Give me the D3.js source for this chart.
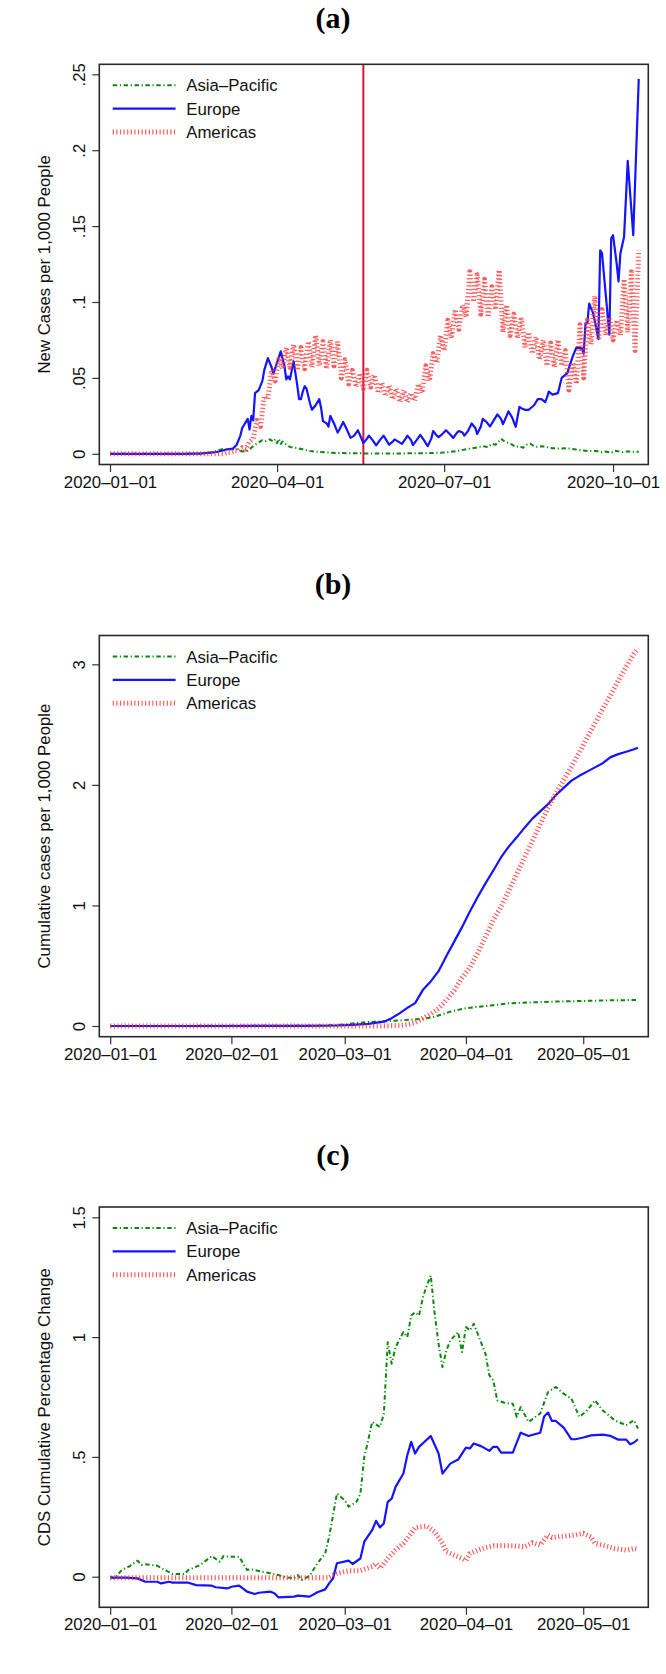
<!DOCTYPE html>
<html><head><meta charset="utf-8">
<script src="https://cdn.jsdelivr.net/npm/d3@7"></script>
<style>body{margin:0;background:#fff} svg{display:block}</style>
</head><body>
<svg id="c" width="666" height="1674"></svg>
<script>
// ---------------- DATA ----------------
// day offsets are counted from 2020-01-01
const seriesNames = ["Asia\u2013Pacific", "Europe", "Americas"];
const panelTitles = ["(a)", "(b)", "(c)"];
const yLabels = ["New Cases per 1,000 People", "Cumulative cases per 1,000 People", "CDS Cumulative Percentage Change"];
const xTicksA = ["2020-01-01", "2020-04-01", "2020-07-01", "2020-10-01"];
const xTicksBC = ["2020-01-01", "2020-02-01", "2020-03-01", "2020-04-01", "2020-05-01"];
const yTicksA = [0, 0.05, 0.1, 0.15, 0.2, 0.25];
const yTicksB = [0, 1, 2, 3];
const yTicksC = [0, 0.5, 1, 1.5];
const markerDateA = "2020-05-18";

// Panel (a): new cases per 1,000
const asiaDaysA = [0,50,55,58,61,65,69,72,75,77,79,81,83,85,87,89,90,91,92,93,94,96,98,101,105,109,114,119,125,135,150,165,175,181,185,189,194,199,203,206,208,210,212,213,215,217,219,221,223,225,227,229,231,233,235,237,239,241,245,249,253,257,261,265,268,270,273,275,277,279,282,285,288];
const asiaValsA = [0,0,0.001,0.002,0.003,0.003,0.003,0.0015,0.002,0.004,0.006,0.0075,0.009,0.0085,0.0095,0.008,0.0095,0.007,0.0098,0.0065,0.008,0.006,0.0045,0.004,0.003,0.0018,0.0012,0.0008,0.0005,0.0003,0.0002,0.0003,0.0005,0.0008,0.0012,0.0018,0.003,0.004,0.005,0.0045,0.0066,0.006,0.0085,0.0099,0.008,0.0072,0.006,0.0045,0.005,0.004,0.006,0.0066,0.005,0.0045,0.005,0.0048,0.004,0.0037,0.0035,0.0037,0.003,0.0022,0.0018,0.0018,0.001,0.0015,0.0007,0.002,0.0016,0.0012,0.0015,0.0014,0.0013];

const europeDaysA = [0,20,40,50,55,58,61,64,67,69,71,72,73,74,75,76,77,78,79,81,83,84,86,88,89,91,93,95,96,97,98,99,100,102,103,104,105,106,107,109,110,112,114,115,116,118,119,120,122,124,125,127,129,131,133,135,137,138,140,141,143,145,147,149,151,152,154,155,157,159,161,162,164,165,167,169,171,173,175,176,178,179,181,183,185,187,189,190,192,193,195,197,199,200,202,203,205,207,209,211,213,214,216,217,219,221,223,224,226,228,229,231,233,235,237,238,239,241,244,246,249,252,254,257,258,259,260,261,263,264,266,267,268,270,272,273,274,276,277,278,280,282,285,288];
const europeValsA = [0,0,0,0.0003,0.0008,0.0012,0.002,0.003,0.0035,0.006,0.012,0.017,0.019,0.021,0.023,0.016,0.025,0.022,0.040,0.042,0.048,0.055,0.063,0.057,0.053,0.060,0.0675,0.058,0.049,0.051,0.049,0.055,0.061,0.045,0.036,0.036,0.041,0.0445,0.043,0.033,0.029,0.032,0.036,0.030,0.0215,0.020,0.018,0.025,0.020,0.014,0.016,0.021,0.016,0.0105,0.012,0.0155,0.010,0.007,0.010,0.012,0.009,0.0055,0.009,0.012,0.008,0.006,0.008,0.0095,0.008,0.0065,0.010,0.012,0.009,0.0057,0.009,0.0125,0.009,0.005,0.010,0.015,0.012,0.011,0.013,0.0155,0.013,0.0105,0.014,0.015,0.014,0.012,0.015,0.020,0.017,0.013,0.018,0.023,0.021,0.018,0.022,0.026,0.023,0.0195,0.025,0.028,0.024,0.0178,0.031,0.030,0.029,0.029,0.030,0.032,0.036,0.036,0.034,0.037,0.041,0.039,0.040,0.050,0.053,0.064,0.070,0.0695,0.066,0.086,0.086,0.099,0.093,0.088,0.0757,0.134,0.132,0.105,0.0785,0.142,0.144,0.125,0.1135,0.132,0.143,0.193,0.144,0.247];

const americasDaysA = [0,10,20,30,40,50,60,
  62,64,66,68,70,72,74,76,78,80,82,84,86,88,90,92,94,96,98,100,102,104,106,108,110,112,114,116,118,120,122,124,126,128,130,132,134,136,138,140,142,144,146,148,150,152,154,156,158,160,162,164,166,168,170,172,174,176,178,180,182,184,186,188,190,192,194,196,198,200,202,204,206,208,210,212,214,216,218,220,222,224,226,228,230,232,234,236,238,240,242,244,246,248,250,252,254,256,258,260,262,264,266,268,270,272,274,276,278,280,282,284,286,288];
const americasValsA = [0,0,0,0,0,0,0,
  0.000,0.001,0.001,0.002,0.002,0.004,0.003,0.008,0.010,0.022,0.018,0.038,0.036,0.055,0.048,0.064,0.056,0.070,0.057,0.072,0.055,0.070,0.056,0.074,0.057,0.078,0.058,0.074,0.056,0.075,0.058,0.074,0.050,0.062,0.046,0.055,0.044,0.053,0.043,0.055,0.044,0.052,0.040,0.047,0.038,0.045,0.036,0.043,0.034,0.042,0.034,0.040,0.035,0.046,0.040,0.058,0.048,0.066,0.060,0.078,0.068,0.088,0.076,0.095,0.082,0.098,0.090,0.120,0.100,0.118,0.092,0.115,0.090,0.110,0.095,0.121,0.080,0.098,0.078,0.092,0.076,0.090,0.070,0.080,0.066,0.077,0.062,0.075,0.058,0.073,0.057,0.075,0.058,0.068,0.042,0.060,0.046,0.085,0.050,0.088,0.072,0.104,0.075,0.095,0.078,0.090,0.075,0.088,0.078,0.115,0.080,0.120,0.068,0.134];

// Panel (b): cumulative cases per 1,000
const asiaDaysB = [0,20,40,50,55,58,60,63,66,70,74,78,81,83,85,87,89,91,94,98,102,107,113,120,128,135];
const asiaValsB = [0,0.001,0.002,0.003,0.005,0.009,0.013,0.024,0.033,0.039,0.046,0.055,0.064,0.077,0.098,0.119,0.134,0.148,0.159,0.173,0.188,0.195,0.202,0.207,0.213,0.216];
const europeDaysB = [0,30,50,58,62,66,70,72,74,76,78,80,82,84,86,88,90,92,94,96,98,100,102,104,106,108,110,112,114,116,118,120,122,124,126,128,130,132,134,135];
const europeValsB = [0,0,0.001,0.004,0.010,0.017,0.036,0.065,0.105,0.15,0.19,0.30,0.37,0.455,0.58,0.70,0.82,0.95,1.07,1.183,1.29,1.40,1.49,1.565,1.645,1.72,1.78,1.84,1.915,1.975,2.035,2.075,2.11,2.145,2.18,2.23,2.255,2.275,2.295,2.308];
const americasDaysB = [0,60,70,74,76,78,80,82,84,86,88,90,92,94,96,98,100,102,104,106,108,110,112,114,116,118,120,122,124,126,128,130,132,134,135];
const americasValsB = [0,0,0.001,0.005,0.012,0.027,0.064,0.10,0.145,0.216,0.295,0.40,0.485,0.605,0.74,0.88,0.99,1.125,1.26,1.40,1.535,1.675,1.81,1.93,2.04,2.15,2.27,2.39,2.51,2.63,2.745,2.865,2.98,3.09,3.132];

// Panel (c): CDS cumulative percentage change
const asiaDaysC = [0,1,3,5,7,8,9,12,14,16,19,20,23,26,28,29,31,33,35,36,41,43,45,47,48,49,51,53,55,56,58,60,61,63,64,65,66,67,69,70,71,72,73,75,76,77,78,79,80,81,82,83,84,85,86,87,89,90,91,92,93,94,96,97,98,99,101,103,104,105,107,110,112,114,116,118,120,122,124,126,127,129,132,134,135];
const asiaValsC = [0,-0.007,0.028,0.044,0.067,0.049,0.052,0.046,0.028,0.011,0.011,0.028,0.049,0.086,0.0625,0.086,0.083,0.083,0.028,0.031,0.014,0.007,-0.003,-0.007,0.007,-0.014,0.003,0.056,0.097,0.167,0.347,0.319,0.292,0.3125,0.347,0.5,0.569,0.646,0.625,0.68,0.979,0.889,0.958,1.021,1.0,1.09,1.104,1.09,1.167,1.215,1.257,1.097,0.972,0.875,0.944,0.986,1.021,0.9375,1.042,1.028,1.056,1.014,0.931,0.840,0.819,0.736,0.725,0.722,0.667,0.708,0.646,0.681,0.771,0.792,0.764,0.743,0.667,0.694,0.736,0.694,0.681,0.653,0.632,0.653,0.618];
const europeDaysC = [0,4,7,9,12,13,15,16,20,22,26,27,30,31,33,35,37,38,41,42,43,47,48,51,53,55,56,57,58,61,62,64,65,67,68,69,70,71,72,73,75,76,77,78,79,82,84,85,86,87,89,91,92,93,95,97,98,99,100,103,105,107,110,111,112,113,114,116,118,119,121,123,126,128,130,132,133,134,135];
const europeValsC = [-0.004,-0.004,-0.007,-0.021,-0.021,-0.028,-0.021,-0.025,-0.025,-0.035,-0.0375,-0.044,-0.049,-0.042,-0.0375,-0.0625,-0.072,-0.067,-0.0625,-0.069,-0.086,-0.083,-0.079,-0.083,-0.065,-0.053,-0.028,-0.007,0.056,0.067,0.053,0.076,0.146,0.194,0.233,0.206,0.222,0.3125,0.326,0.375,0.431,0.507,0.5625,0.514,0.542,0.5875,0.514,0.431,0.451,0.472,0.489,0.539,0.535,0.556,0.544,0.525,0.542,0.542,0.518,0.518,0.601,0.5875,0.601,0.669,0.685,0.65,0.65,0.622,0.5736,0.5736,0.581,0.590,0.593,0.5875,0.572,0.572,0.553,0.56,0.5736];
const americasDaysC = [0,20,40,56,58,61,64,67,68,69,71,73,75,77,78,79,81,83,85,86,88,90,91,92,94,96,98,103,106,108,110,112,113,116,119,121,123,124,126,129,132,134,135];
const americasValsC = [-0.004,-0.004,-0.004,-0.004,0.014,0.025,0.025,0.042,0.056,0.035,0.076,0.111,0.139,0.181,0.204,0.208,0.211,0.1875,0.139,0.104,0.090,0.076,0.067,0.097,0.111,0.122,0.129,0.129,0.125,0.142,0.132,0.174,0.164,0.169,0.174,0.181,0.167,0.139,0.132,0.118,0.111,0.118,0.115];

// ---------------- DRAWING ----------------
const base = Date.UTC(2020, 0, 1);
const toDate = d => new Date(base + d * 864e5);
const parse = d3.utcParse("%Y-%m-%d");
const fmtDate = d3.utcFormat("%Y\u2013%m\u2013%d");
const fmtY = v => { let s = String(v); if (s.startsWith("0.")) s = s.slice(1); return s; };
const zip = (a, b) => a.slice(0, Math.min(a.length, b.length)).map((d, i) => [d, b[i]]);

const FONT = "'Liberation Sans', Arial, Helvetica, sans-serif";
const FS = "16.8px";
const styles = [
  { color: "#0a8a0a", width: 2, dash: "4.5,2.6,1.2,2.6", opacity: 1 },
  { color: "#1414ff", width: 2.2, dash: null, opacity: 1 },
  { color: "#ff3535", width: 5, dash: "1.2,2.4", opacity: 0.8 }
];

const svg = d3.select("#c");
const L = 99.3, R = 648.3;

function panel(p) {
  const g = svg.append("g");
  const x = d3.scaleUtc().domain([toDate(p.xd[0]), toDate(p.xd[1])]).range([L, R]);
  const y = d3.scaleLinear().domain(p.yd).range([p.bottom, p.top]);

  // title
  g.append("text").attr("x", 333).attr("y", p.titleY)
    .attr("text-anchor", "middle")
    .style("font-family", "'Liberation Serif', 'Times New Roman', serif").style("font-weight", "bold").style("font-size", "30px")
    .text(p.title);

  // x axis
  const gx = g.append("g").attr("transform", `translate(0,${p.bottom})`)
    .call(d3.axisBottom(x).tickValues(p.xTicks.map(parse)).tickFormat(fmtDate).tickSize(7.5).tickPadding(7.5));
  gx.select(".domain").remove();
  gx.selectAll(".tick line").attr("stroke", "#333").attr("stroke-width", 1.2);
  gx.selectAll(".tick text").attr("y", 23).attr("dy", null)
    .style("font-family", FONT).style("font-size", FS).attr("fill", "#111");

  // y axis
  const gy = g.append("g").attr("transform", `translate(${L},0)`)
    .call(d3.axisLeft(y).tickValues(p.yTicks).tickFormat(fmtY).tickSize(7));
  gy.select(".domain").remove();
  gy.selectAll(".tick line").attr("stroke", "#333").attr("stroke-width", 1.2);
  gy.selectAll(".tick text").attr("x", null).attr("dy", null)
    .attr("transform", "translate(-14,0) rotate(-90)")
    .attr("text-anchor", "middle")
    .style("font-family", FONT).style("font-size", FS).attr("fill", "#111");

  // y label
  const cy = (p.top + p.bottom) / 2;
  g.append("text").attr("transform", `translate(49.5,${cy}) rotate(-90)`)
    .attr("text-anchor", "middle")
    .style("font-family", FONT).style("font-size", FS).attr("fill", "#111")
    .text(p.ylabel);

  // vertical marker
  if (p.marker) {
    g.append("line").attr("x1", x(parse(p.marker))).attr("x2", x(parse(p.marker)))
      .attr("y1", p.top).attr("y2", p.bottom)
      .attr("stroke", "#d8123c").attr("stroke-width", 2);
  }

  // series
  const line = d3.line().x(d => x(toDate(d[0]))).y(d => y(d[1]));
  p.series.forEach((s, i) => {
    const st = styles[i];
    g.append("path").datum(zip(s[0], s[1])).attr("d", line)
      .attr("fill", "none").attr("stroke", st.color).attr("stroke-width", st.width)
      .attr("stroke-dasharray", st.dash).attr("stroke-opacity", st.opacity)
      .attr("stroke-linejoin", "round");
  });

  // legend
  const ly = [21, 44.3, 67.7];
  seriesNames.forEach((n, i) => {
    const st = styles[i];
    const yy = p.top + ly[i];
    g.append("line").attr("x1", 112.7).attr("x2", 175.6).attr("y1", yy).attr("y2", yy)
      .attr("stroke", st.color).attr("stroke-width", st.width)
      .attr("stroke-dasharray", st.dash).attr("stroke-opacity", st.opacity);
    g.append("text").attr("x", 186.2).attr("y", yy).attr("dy", "0.36em")
      .style("font-family", FONT).style("font-size", FS).attr("fill", "#111")
      .text(n);
  });

  // frame
  g.append("rect").attr("x", L).attr("y", p.top).attr("width", R - L).attr("height", p.bottom - p.top)
    .attr("fill", "none").attr("stroke", "#2a2a2a").attr("stroke-width", 1.6);
}

panel({
  title: panelTitles[0], titleY: 27.5, top: 64.3, bottom: 464.5,
  xd: [-5.83, 293.2], yd: [-0.00705, 0.2566],
  xTicks: xTicksA, yTicks: yTicksA, ylabel: yLabels[0], marker: markerDateA,
  series: [[asiaDaysA, asiaValsA], [europeDaysA, europeValsA], [americasDaysA, americasValsA]]
});
panel({
  title: panelTitles[1], titleY: 594, top: 635.5, bottom: 1036.7,
  xd: [-2.79, 137.65], yd: [-0.0887, 3.239],
  xTicks: xTicksBC, yTicks: yTicksB, ylabel: yLabels[1],
  series: [[asiaDaysB, asiaValsB], [europeDaysB, europeValsB], [americasDaysB, americasValsB]]
});
panel({
  title: panelTitles[2], titleY: 1165, top: 1207, bottom: 1607.3,
  xd: [-2.79, 137.65], yd: [-0.1277, 1.543],
  xTicks: xTicksBC, yTicks: yTicksC, ylabel: yLabels[2],
  series: [[asiaDaysC, asiaValsC], [europeDaysC, europeValsC], [americasDaysC, americasValsC]]
});
</script>
</body></html>
